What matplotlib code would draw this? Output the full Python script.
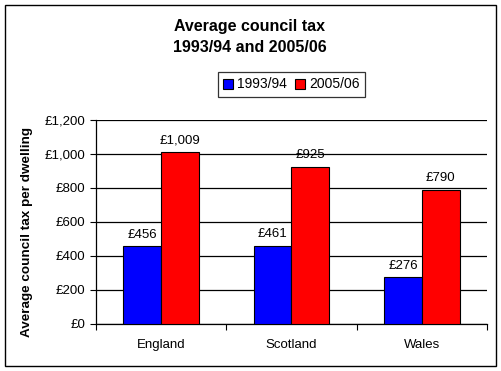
import numpy as np
import matplotlib
matplotlib.use('Agg')
import matplotlib.pyplot as plt
from matplotlib.patches import Rectangle
from matplotlib.ticker import FuncFormatter, FixedLocator

plt.rcParams['font.family'] = ['Liberation Sans', 'DejaVu Sans']

countries = ['England', 'Scotland', 'Wales']
series_names = ['1993/94', '2005/06']
tax_1993 = [456, 461, 276]
tax_2005 = [1009, 925, 790]
colours = ['#0000FF', '#FF0000']

fig = plt.figure(figsize=(5.02, 3.71), dpi=100)
fig.patch.set_facecolor('white')

# outer chart border
fig.patches.append(Rectangle((5 / 502, 5 / 371), 491 / 502, 361 / 371,
                             transform=fig.transFigure, fill=False,
                             edgecolor='black', linewidth=1.0))

ax = fig.add_axes([96 / 502, 47 / 371, 391 / 502, 204 / 371])

x = np.arange(len(countries))
width = 0.29
bars1 = ax.bar(x - width / 2, tax_1993, width, color=colours[0],
               edgecolor='black', linewidth=0.8, label=series_names[0], zorder=3)
bars2 = ax.bar(x + width / 2, tax_2005, width, color=colours[1],
               edgecolor='black', linewidth=0.8, label=series_names[1], zorder=3)

for bars in (bars1, bars2):
    for b in bars:
        ax.annotate('£{:,.0f}'.format(b.get_height()),
                    (b.get_x() + b.get_width() / 2, b.get_height()),
                    xytext=(0, 4), textcoords='offset points',
                    ha='center', va='bottom', fontsize=9.5, zorder=4)

ax.set_xlim(-0.5, len(countries) - 0.5)
ax.set_ylim(0, 1200)
ax.set_yticks(np.arange(0, 1201, 200))
ax.yaxis.set_major_formatter(FuncFormatter(lambda v, p: '£{:,.0f}'.format(v)))
ax.yaxis.grid(True, color='black', linewidth=0.9, zorder=0)

ax.xaxis.set_major_locator(FixedLocator(np.arange(-0.5, len(countries), 1.0)))
ax.xaxis.set_major_formatter(FuncFormatter(lambda v, p: ''))
ax.xaxis.set_minor_locator(FixedLocator(x))
ax.set_xticklabels(countries, minor=True)
ax.tick_params(axis='x', which='minor', length=0, pad=11, labelsize=9.5)
ax.tick_params(axis='x', which='major', length=4.5, width=0.8, direction='out')
ax.tick_params(axis='y', length=4.5, width=0.8, direction='out', pad=3, labelsize=9.5)

for side in ('top', 'right'):
    ax.spines[side].set_visible(False)
for side in ('left', 'bottom'):
    ax.spines[side].set_linewidth(0.9)

ax.set_ylabel('Average council tax per dwelling', fontsize=9.7,
              fontweight='bold')
ax.yaxis.set_label_coords(-0.16, 0.45)

fig.text(250 / 502, 1 - 37 / 371, 'Average council tax\n1993/94 and 2005/06',
         ha='center', va='center', fontsize=11.5, fontweight='bold',
         linespacing=1.45)

leg = fig.legend(loc='center', bbox_to_anchor=(291.5 / 502, 1 - 84.5 / 371),
                 ncol=2, fontsize=10, frameon=True, fancybox=False,
                 handlelength=0.7, handleheight=0.7, handletextpad=0.3,
                 columnspacing=0.6, borderpad=0.4, borderaxespad=0)
leg.get_frame().set_edgecolor('black')
leg.get_frame().set_linewidth(0.9)

fig.savefig('out.png', dpi=100, facecolor='white')
